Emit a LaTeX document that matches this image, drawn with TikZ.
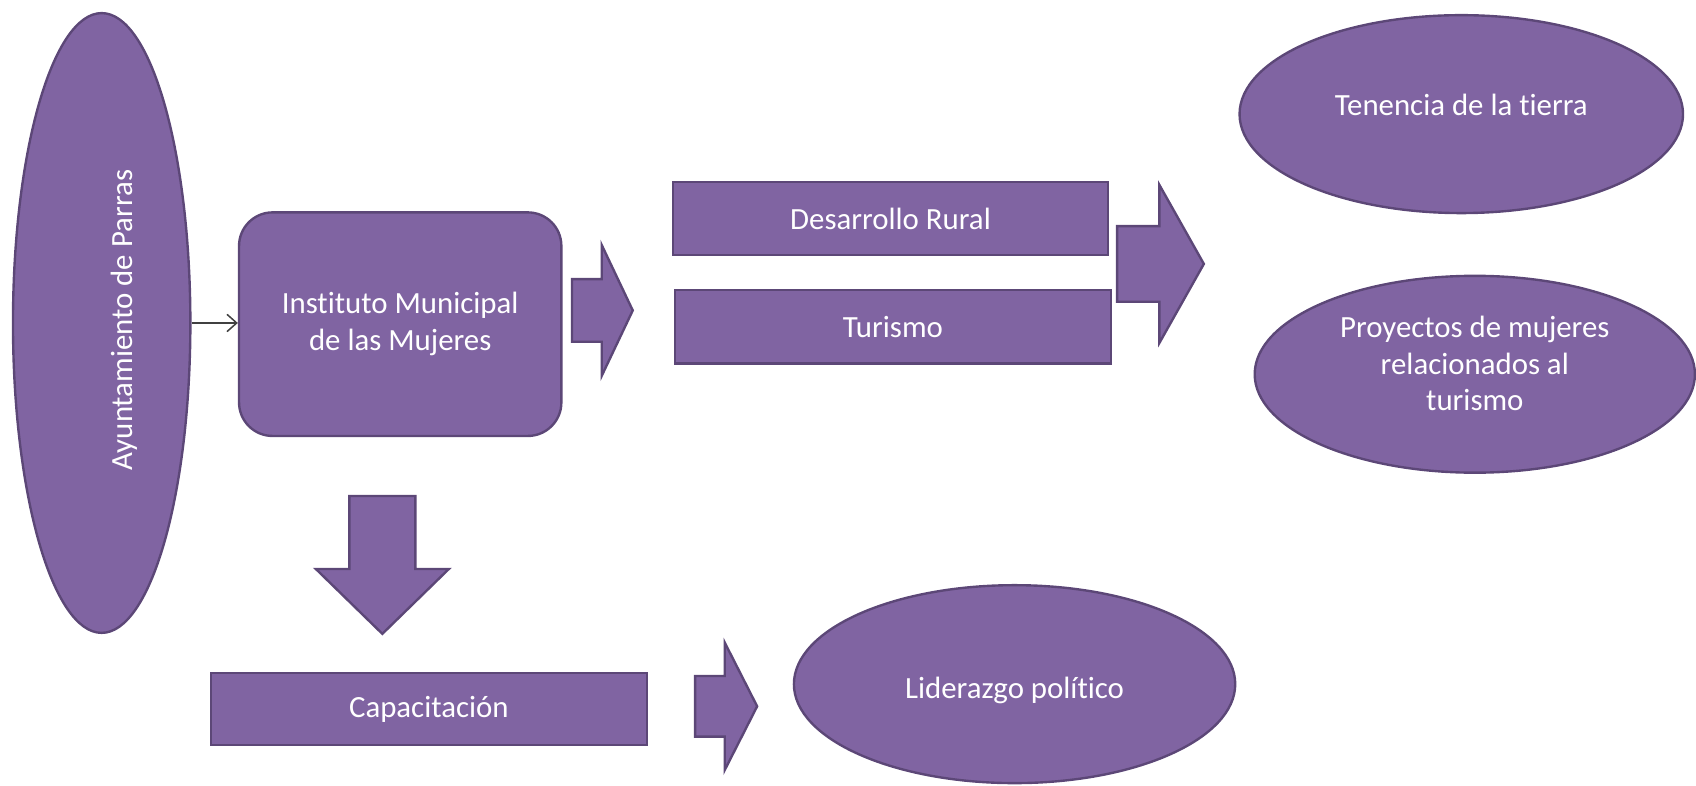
\documentclass[tikz,border=0pt]{standalone}
\usepackage{fontspec}
\setmainfont{Carlito}[Ligatures=CommonOff]
\usetikzlibrary{shapes.geometric,arrows.meta}
\definecolor{lila}{HTML}{8064A2}
\definecolor{lilaborde}{HTML}{5C4777}
\definecolor{flecha}{HTML}{404040}
\tikzstyle{caja}=[rectangle,draw=lilaborde,fill=lila,line width=2.2pt,inner sep=0pt]
\tikzstyle{ovalo}=[ellipse,draw=lilaborde,fill=lila,line width=2.2pt,inner sep=0pt]
\tikzstyle{texto}=[text=white,font=\fontsize{28.5}{34}\selectfont,align=center,inner sep=0pt]
\tikzstyle{bloque}=[draw=lilaborde,fill=lila,line width=2.2pt,line join=miter]
\tikzstyle{hacia}=[-{Straight Barb[length=9pt,width=16pt]},line width=1.4pt,draw=flecha]

\begin{document}
\begin{tikzpicture}[x=1pt,y=-1pt]
            \useasboundingbox (0,0) rectangle (1568,726);
            % ovalos
            \node[ovalo,minimum width=164pt,minimum height=573pt] (ayto) at (94, 298.6) {}
            ;
            \node[texto,rotate=90] (ayto-t) at (115, 296) {Ayuntamiento de Parras}
            ;
            \node[ovalo,minimum width=410pt,minimum height=183pt] (tierra) at (1351, 105.5) {}
            ;
            \node[texto,anchor=base] (tierra-t) at (1351, 107) {Tenencia de la tierra}
            ;
            \node[ovalo,minimum width=407pt,minimum height=182pt] (proyectos) at (1363.5, 346) {}
            ;
            \node[texto] (proyectos-t) at (1363.5, 336) {Proyectos de mujeres\\relacionados al\\turismo}
            ;
            \node[ovalo,minimum width=408pt,minimum height=183pt] (lider) at (938, 632.5) {}
            ;
            \node[texto,anchor=base] (lider-t) at (938, 646) {Liderazgo político}
            ;
            % cajas
            \node[caja,texto,rounded corners=31pt,minimum width=298pt,minimum height=206.7pt] (imm) at (370, 299.7) {Instituto Municipal\\de las Mujeres}
            ;
            \node[caja,texto,minimum width=402.5pt,minimum height=68pt] (rural) at (823.3, 202) {Desarrollo Rural}
            ;
            \node[caja,texto,minimum width=403pt,minimum height=68pt] (turismo) at (825.5, 302) {Turismo}
            ;
            \node[caja,texto,minimum width=403pt,minimum height=67pt] (capac) at (396.5, 655.5) {Capacitación}
            ;
            \draw[hacia] (ayto.east) -- (ayto.east -| imm.west);
            % flechas de bloque
            \draw[bloque] (528.8,258) -- (556.3,258) -- (556.3,226.5) -- (585,287)
                -- (556.3,347.5) -- (556.3,316) -- (528.8,316) -- cycle;
            \draw[bloque] (1032.8,209) -- (1071.9,209) -- (1071.9,171) -- (1113,244)
                -- (1071.9,317) -- (1071.9,279) -- (1032.8,279) -- cycle;
            \draw[bloque] (323,458.6) -- (384,458.6) -- (384,526) -- (415,526)
                -- (353.5,586) -- (292,526) -- (323,526) -- cycle;
            \draw[bloque] (642.6,625) -- (670,625) -- (670,594) -- (700,653)
                -- (670,712) -- (670,681) -- (642.6,681) -- cycle;
        \end{tikzpicture}
\end{document}
